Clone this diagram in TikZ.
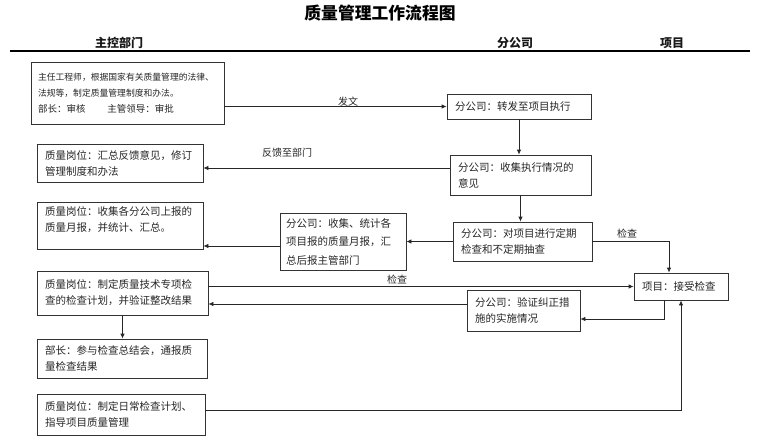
\documentclass[tikz,border=0pt]{standalone}
\usepackage{fontspec}
\setmainfont{Noto Sans CJK SC}
\usetikzlibrary{arrows.meta}
\begin{document}
\begin{tikzpicture}[x=1pt,y=-1pt,
  box/.style={draw=black!80, line width=0.8pt, inner xsep=8pt, inner ysep=3pt, align=left, text=black!85, font=\fontsize{10.5}{16}\selectfont},
  arr/.style={draw=black!85, line width=0.8pt, -{Latex[length=5pt,width=4.5pt]}},
  ln/.style={draw=black!85, line width=0.8pt},
  lab/.style={font=\fontsize{10}{12}\selectfont, text=black!85},
  head/.style={font=\bfseries\fontsize{12}{14}\selectfont, text=black!90}]
\useasboundingbox (0,0) rectangle (760,444);
% title and header
\node[font=\bfseries\fontsize{16.8}{19}\selectfont] (title) at (380,13) {质量管理工作流程图};
\node[head] (h1) at (119,43) {主控部门};
\node[head] (h2) at (515,43) {分公司};
\node[head] (h3) at (672,43) {项目};
\coordinate (hl) at (10,51);
\coordinate (hr) at (750,51);
\draw[line width=1.2pt] (hl) -- (hr);
% boxes
\node[box, font=\fontsize{8.8}{16}\selectfont, inner xsep=7pt, text width=179pt, minimum height=62pt] (A) at (127.5,93)
  {主任工程师，根据国家有关质量管理的法律、\\法规等，制定质量管理制度和办法。\\{\fontsize{9.5}{16}\selectfont 部长：审核\hspace{22pt}主管领导：审批}};
\node[box, text width=128pt, minimum height=25pt] (B) at (519,106.5) {分公司：转发至项目执行};
\node[box, text width=125pt, minimum height=40pt] (C) at (520.5,175) {分公司：收集执行情况的\\意见};
\node[box, text width=150pt, minimum height=38pt] (D) at (120,163) {质量岗位：汇总反馈意见，修订\\管理制度和办法};
\node[box, text width=123pt, minimum height=39pt] (E) at (522.5,241.5) {分公司：对项目进行定期\\检查和不定期抽查};
\node[box, font=\fontsize{10.5}{18.5}\selectfont, inner xsep=6pt, text width=114pt, minimum height=57pt] (F) at (343,241.5) {分公司：收集、统计各\\项目报的质量月报，汇\\总后报主管部门};
\node[box, text width=150pt, minimum height=47pt] (G) at (120,225.5) {质量岗位：收集各分公司上报的\\质量月报，并统计、汇总。\\[-4pt]\mbox{}};
\node[box, text width=78pt, minimum height=27pt] (H) at (681,286.5) {项目：接受检查};
\node[box, text width=155pt, minimum height=44pt] (I) at (122.5,293) {质量岗位：制定质量技术专项检\\查的检查计划，并验证整改结果};
\node[box, text width=97pt, minimum height=41pt] (J) at (523.5,310.5) {分公司：验证纠正措\\施的实施情况};
\node[box, text width=154pt, minimum height=39pt] (K) at (122,358.5) {部长：参与检查总结会，通报质\\量检查结果};
\node[box, text width=152pt, minimum height=41pt] (L) at (121,414.5) {质量岗位：制定日常检查计划、\\指导项目质量管理};
% connectors
\draw[arr] (A.east |- B.west) -- (B.west);
\node[lab] (l1) at (348,102) {发文};
\draw[arr] (B.south) -- (B.south |- C.north);
\draw[arr] ([yshift=7pt]C.west) -- ([yshift=7pt]C.west -| D.east);
\node[lab] (l2) at (287,153) {反馈至部门};
\draw[arr] (C.south) -- (C.south |- E.north);
\draw[arr] (E.west) -- (E.west -| F.east);
\draw[arr] ([yshift=-4.5pt]F.west) -- ([yshift=-4.5pt]F.west -| G.east);
\draw[arr] (E.east) -| ([xshift=-12pt]H.north);
\node[lab] (l3) at (627,234) {检查};
\draw[arr] (I.east |- H.west) -- (H.west);
\node[lab] (l4) at (397,280) {检查};
\draw[arr] ([xshift=-17pt]H.south) |- ([yshift=-8.5pt]J.east);
\draw[arr] ([yshift=6.5pt]J.west) -- ([yshift=6.5pt]J.west -| I.east);
\draw[arr] (I.south) -- (I.south |- K.north);
\draw[arr] ([yshift=4pt]L.east) -| (H.south);
\end{tikzpicture}
\end{document}
